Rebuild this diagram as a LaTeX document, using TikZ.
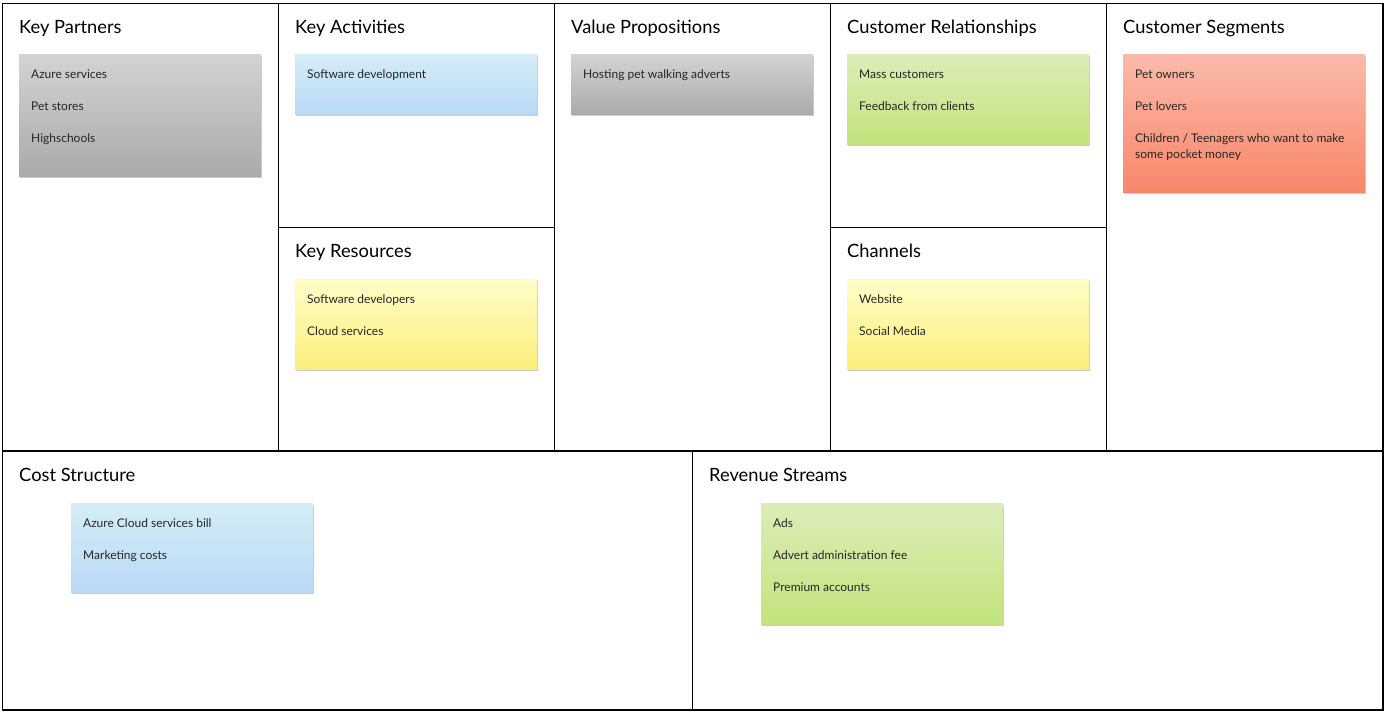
\documentclass[tikz,border=0pt]{standalone}
\usepackage{fontspec}
\setmainfont{Lato}
\definecolor{mygreytop}{RGB}{211,211,211}
\definecolor{mygreybot}{RGB}{170,170,170}
\definecolor{mybluetop}{RGB}{213,237,246}
\definecolor{mybluebot}{RGB}{185,216,245}
\definecolor{myyellowtop}{RGB}{255,253,200}
\definecolor{myyellowbot}{RGB}{251,239,122}
\definecolor{mygreentop}{RGB}{220,237,184}
\definecolor{mygreenbot}{RGB}{194,227,124}
\definecolor{myredtop}{RGB}{251,186,169}
\definecolor{myredbot}{RGB}{248,134,106}
\usetikzlibrary{positioning,shadows,calc}

\begin{document}
\begin{tikzpicture}[
  x=1pt,
  y=1pt,
  frame/.style={draw, line width=1.3pt},
  heading/.style={
    anchor=base west,
    inner sep=0pt,
    font=\fontsize{18.3}{22}\selectfont
    },
  note/.style={
    anchor=north west,
    minimum width=242pt,
    inner sep=0pt,
    shading=axis,
    drop shadow={shadow xshift=0.8pt, shadow yshift=-1.6pt, opacity=0.4}
    },
  notetext/.style={
    anchor=north west,
    inner sep=0pt,
    text width=225pt,
    align=flush left,
    text=black!85,
    font=\fontsize{12}{16}\selectfont,
    execute at begin node={\spaceskip=0pt\xspaceskip=0pt\strut}
    }
]
\useasboundingbox (0,0) rectangle (1385,-714);

\draw [frame] (2.5,-3.5) rectangle (1383,-710);
\draw [frame] (278.5,-3.5) -- (278.5,-451);
\draw [frame] (554.5,-3.5) -- (554.5,-451);
\draw [frame] (830.5,-3.5) -- (830.5,-451);
\draw [frame] (1106.5,-3.5) -- (1106.5,-451);
\draw [frame] (2.5,-451) -- (1383,-451);
\draw [frame] (278.5,-227.5) -- (554.5,-227.5);
\draw [frame] (830.5,-227.5) -- (1106.5,-227.5);
\draw [frame] (692.5,-451) -- (692.5,-710);

\node [heading] (kp) at (19,-33.5) {Key Partners};
\node [heading] (ka) at (295,-33.5) {Key Activities};
\node [heading] (vp) at (571,-33.5) {Value Propositions};
\node [heading] (cr) at (847,-33.5) {Customer Relationships};
\node [heading] (cs) at (1123,-33.5) {Customer Segments};
\node [heading] (kr) at (295,-257.5) {Key Resources};
\node [heading] (ch) at (847,-257.5) {Channels};
\node [heading] (cost) at (19,-481.5) {Cost Structure};
\node [heading] (rev) at (709,-481.5) {Revenue Streams};

\node [note, minimum height=122pt, top color=mygreytop, bottom color=mygreybot] (kpnote) at (19,-54.5) {};
\node [notetext] at ($(kpnote.north west)+(12,-12.8)$) {Azure services\\[16pt]Pet stores\\[16pt]Highschools};

\node [note, minimum height=60pt, top color=mybluetop, bottom color=mybluebot] (kanote) at (295,-54.5) {};
\node [notetext] at ($(kanote.north west)+(12,-12.8)$) {Software development};

\node [note, minimum height=60pt, top color=mygreytop, bottom color=mygreybot] (vpnote) at (571,-54.5) {};
\node [notetext] at ($(vpnote.north west)+(12,-12.8)$) {Hosting pet walking adverts};

\node [note, minimum height=90pt, top color=mygreentop, bottom color=mygreenbot] (crnote) at (847,-54.5) {};
\node [notetext] at ($(crnote.north west)+(12,-12.8)$) {Mass customers\\[16pt]Feedback from clients};

\node [note, minimum height=138pt, top color=myredtop, bottom color=myredbot] (csnote) at (1123,-54.5) {};
\node [notetext] at ($(csnote.north west)+(12,-12.8)$) {Pet owners\\[16pt]Pet lovers\\[16pt]Children / Teenagers who want to make\\some pocket money};

\node [note, minimum height=90pt, top color=myyellowtop, bottom color=myyellowbot] (krnote) at (295,-279.5) {};
\node [notetext] at ($(krnote.north west)+(12,-12.8)$) {Software developers\\[16pt]Cloud services};

\node [note, minimum height=90pt, top color=myyellowtop, bottom color=myyellowbot] (chnote) at (847,-279.5) {};
\node [notetext] at ($(chnote.north west)+(12,-12.8)$) {Website\\[16pt]Social Media};

\node [note, minimum height=89pt, top color=mybluetop, bottom color=mybluebot] (costnote) at (71,-503.5) {};
\node [notetext] at ($(costnote.north west)+(12,-12.8)$) {Azure Cloud services bill\\[16pt]Marketing costs};

\node [note, minimum height=121pt, top color=mygreentop, bottom color=mygreenbot] (revnote) at (761,-503.5) {};
\node [notetext] at ($(revnote.north west)+(12,-12.8)$) {Ads\\[16pt]Advert administration fee\\[16pt]Premium accounts};

\end{tikzpicture}
\end{document}
